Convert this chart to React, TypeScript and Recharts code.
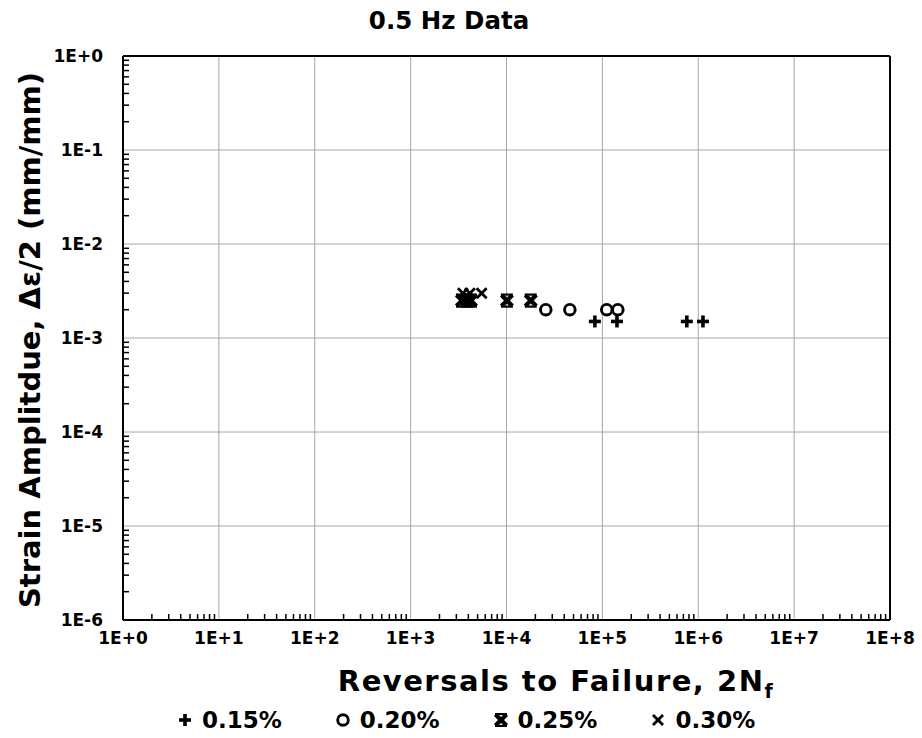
import React from 'react';
import { ScatterChart, Scatter, XAxis, YAxis, ReferenceLine } from 'recharts';

// strain amplitude levels and reversals to failure
const seriesNames = ['0.15%', '0.20%', '0.25%', '0.30%'];
const strainLevels = [0.0015, 0.002, 0.0025, 0.003];
const reversals015 = [83500, 142000, 760000, 1120000];
const reversals020 = [25700, 45800, 111000, 145000];
const reversals025 = [3430, 3860, 4260, 10100, 17900];
const reversals030 = [3510, 4150, 5500];

const xMajor = [1, 10, 100, 1e3, 1e4, 1e5, 1e6, 1e7, 1e8];
const xLabels = ['1E+0', '1E+1', '1E+2', '1E+3', '1E+4', '1E+5', '1E+6', '1E+7', '1E+8'];
const yMajor = [1e-6, 1e-5, 1e-4, 1e-3, 1e-2, 1e-1, 1];
const yLabels = ['1E-6', '1E-5', '1E-4', '1E-3', '1E-2', '1E-1', '1E+0'];

const withMinors = (majors: number[]) =>
  majors.flatMap((m, i) =>
    i < majors.length - 1 ? [m, 2 * m, 3 * m, 4 * m, 5 * m, 6 * m, 7 * m, 8 * m, 9 * m] : [m]
  );

const FONT = '"DejaVu Sans", Verdana, sans-serif';
const GRID = '#a6a6a6';

const XTick = (props: any) => {
  const { x, y, payload } = props;
  const i = xMajor.indexOf(payload.value);
  return (
    <g>
      {i < 0 && <line x1={x} x2={x} y1={y} y2={y - 6} stroke="#000" strokeWidth={1.5} />}
      {i >= 0 && (
        <text x={x} y={y + 24} textAnchor="middle" fontFamily={FONT} fontWeight="bold" fontSize={17} fill="#000">
          {xLabels[i]}
        </text>
      )}
    </g>
  );
};

const YTick = (props: any) => {
  const { x, y, payload } = props;
  const i = yMajor.indexOf(payload.value);
  return (
    <g>
      {i < 0 && <line x1={x} x2={x + 6} y1={y} y2={y} stroke="#000" strokeWidth={1.5} />}
      {i >= 0 && (
        <text x={x - 20} y={y} dy="0.36em" textAnchor="end" fontFamily={FONT} fontWeight="bold" fontSize={17} fill="#000">
          {yLabels[i]}
        </text>
      )}
    </g>
  );
};

const Plus = ({ cx, cy }: any) => (
  <g stroke="#000" strokeWidth={3.6}>
    <line x1={cx - 6} x2={cx + 6} y1={cy} y2={cy} />
    <line x1={cx} x2={cx} y1={cy - 6} y2={cy + 6} />
  </g>
);

const Ring = ({ cx, cy }: any) => (
  <circle cx={cx} cy={cy} r={5.3} fill="#fff" stroke="#000" strokeWidth={2.9} />
);

const Bowtie = ({ cx, cy }: any) => (
  <g stroke="#000">
    <line x1={cx - 5.5} x2={cx + 5.5} y1={cy - 5.5} y2={cy + 5.5} strokeWidth={4.2} />
    <line x1={cx - 5.5} x2={cx + 5.5} y1={cy + 5.5} y2={cy - 5.5} strokeWidth={4.2} />
    <line x1={cx - 6} x2={cx + 6} y1={cy - 6} y2={cy - 6} strokeWidth={2.2} />
    <line x1={cx - 6} x2={cx + 6} y1={cy + 6} y2={cy + 6} strokeWidth={2.2} />
  </g>
);

const Cross = ({ cx, cy }: any) => (
  <g stroke="#000" strokeWidth={2.8}>
    <line x1={cx - 5} x2={cx + 5} y1={cy - 5} y2={cy + 5} />
    <line x1={cx - 5} x2={cx + 5} y1={cy + 5} y2={cy - 5} />
  </g>
);

const shapes = [Plus, Ring, Bowtie, Cross];
const reversals = [reversals015, reversals020, reversals025, reversals030];

export default function App() {
  const series = reversals.map((xs, i) => xs.map((x) => ({ x, y: strainLevels[i] })));

  return (
    <div style={{ position: 'absolute', left: 0, top: 0, width: 922, height: 738, background: '#fff', fontFamily: FONT }}>
      <div style={{ position: 'absolute', left: 0, width: 898, top: 6, textAlign: 'center', fontWeight: 'bold', fontSize: 24.5 }}>
        0.5 Hz Data
      </div>
      <ScatterChart width={922} height={738} margin={{ top: 56, right: 32, left: 0, bottom: 0 }}>
        <XAxis
          type="number"
          dataKey="x"
          scale="log"
          domain={[1, 1e8]}
          allowDataOverflow
          ticks={withMinors(xMajor)}
          interval={0}
          tick={<XTick />}
          tickLine={false}
          tickSize={0}
          tickMargin={0}
          axisLine={{ stroke: '#000', strokeWidth: 2 }}
          height={118}
        />
        <YAxis
          type="number"
          dataKey="y"
          scale="log"
          domain={[1e-6, 1]}
          allowDataOverflow
          ticks={withMinors(yMajor)}
          interval={0}
          tick={<YTick />}
          tickLine={false}
          tickSize={0}
          tickMargin={0}
          axisLine={{ stroke: '#000', strokeWidth: 2 }}
          width={123}
        />
        {xMajor.slice(1, -1).map((v) => (
          <ReferenceLine key={'gx' + v} x={v} stroke={GRID} strokeWidth={1} />
        ))}
        {yMajor.slice(1, -1).map((v) => (
          <ReferenceLine key={'gy' + v} y={v} stroke={GRID} strokeWidth={1} />
        ))}
        <ReferenceLine x={1e8} stroke="#000" strokeWidth={2} />
        <ReferenceLine y={1} stroke="#000" strokeWidth={2} />
        {series.map((pts, i) => (
          <Scatter key={seriesNames[i]} name={seriesNames[i]} data={pts} shape={shapes[i]} isAnimationActive={false} />
        ))}
      </ScatterChart>
      <div
        style={{
          position: 'absolute',
          left: 556,
          top: 681,
          transform: 'translate(-50%, -50%)',
          whiteSpace: 'nowrap',
          fontWeight: 'bold',
          fontSize: 29,
          letterSpacing: 1.5,
        }}
      >
        Reversals to Failure, 2N<sub style={{ fontSize: 19, lineHeight: 0 }}>f</sub>
      </div>
      <div
        style={{
          position: 'absolute',
          left: 30,
          top: 340,
          transform: 'translate(-50%, -50%) rotate(-90deg)',
          whiteSpace: 'nowrap',
          fontWeight: 'bold',
          fontSize: 29,
        }}
      >
        Strain Amplitdue, Δε/2 (mm/mm)
      </div>
      <div style={{ position: 'absolute', left: 178, top: 707, display: 'flex', gap: 54, fontWeight: 'bold', fontSize: 23 }}>
        {seriesNames.map((name, i) => {
          const Shape = shapes[i];
          return (
            <div key={name} style={{ display: 'flex', alignItems: 'center', gap: 10 }}>
              <svg width={14} height={14}>
                <Shape cx={7} cy={7} />
              </svg>
              <span>{name}</span>
            </div>
          );
        })}
      </div>
    </div>
  );
}
